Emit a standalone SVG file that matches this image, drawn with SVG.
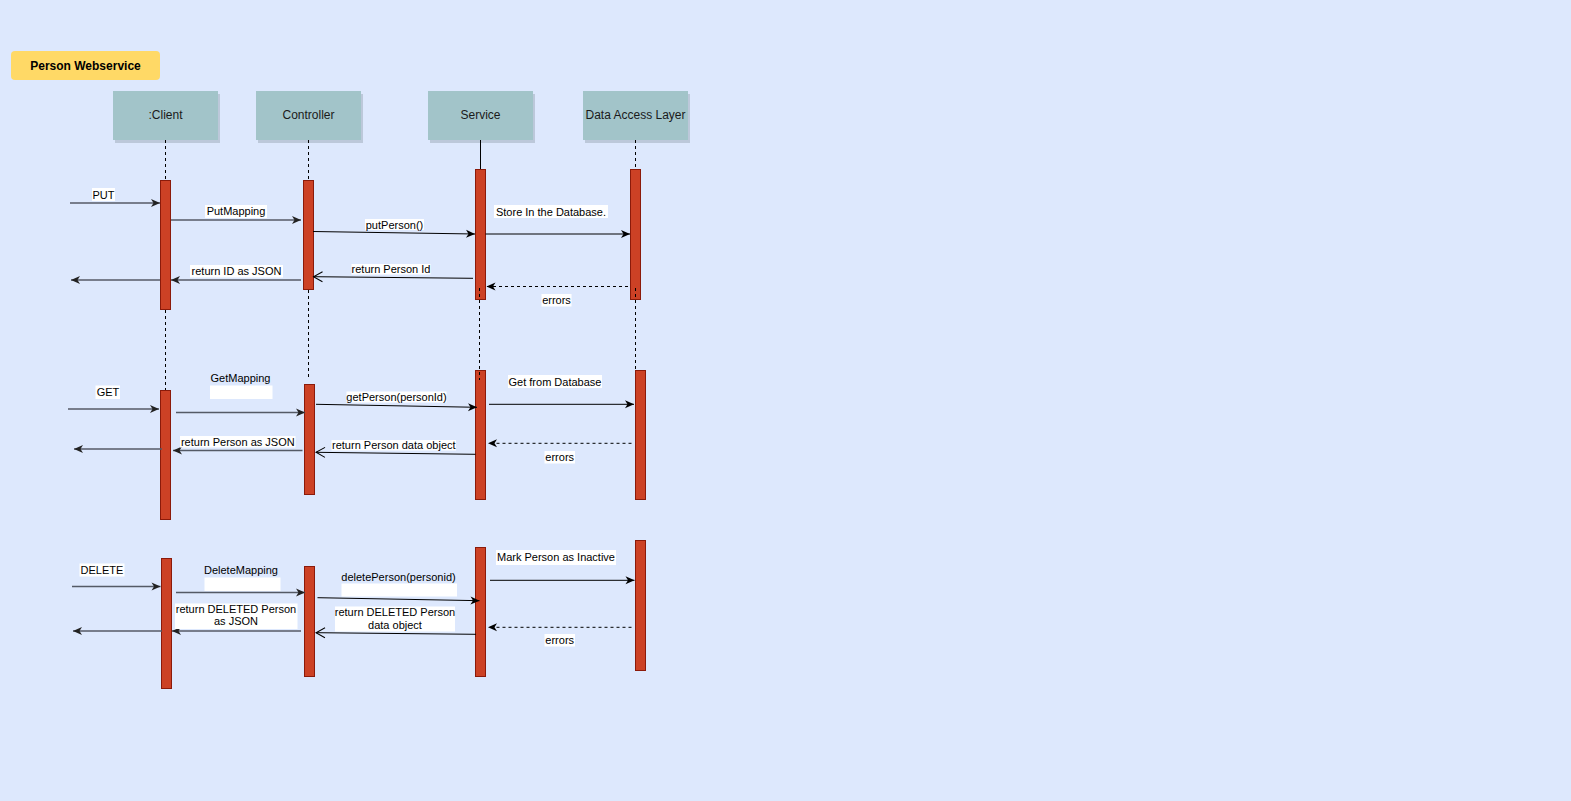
<svg xmlns="http://www.w3.org/2000/svg" width="1571" height="801" viewBox="0 0 1571 801">
  <defs>
    <style>
      .lbl { font-family: "Liberation Sans", Arial, sans-serif; font-size: 11px; fill: #000; text-anchor: middle; }
      .head { font-family: "Liberation Sans", Arial, sans-serif; font-size: 12px; fill: #1a1a1a; text-anchor: middle; }
      .title { font-family: "Liberation Sans", Arial, sans-serif; font-size: 12px; font-weight: bold; fill: #000; text-anchor: middle; }
      .box { fill: #a2c4c9; }
      .shadow { fill: #7f8c99; opacity: 0.35; }
      .act { fill: #cc4125; stroke: #8b1a0a; stroke-width: 1; }
      .life { stroke: #000; stroke-width: 1; stroke-dasharray: 3 3; fill: none; }
      .bg { fill: #fff; }
      .g { stroke: #545a66; stroke-width: 1.6; fill: none; marker-end: url(#gHead); }
      .k { stroke: #000; stroke-width: 1; fill: none; marker-end: url(#kHead); }
      .kd { stroke: #000; stroke-width: 1; fill: none; stroke-dasharray: 3 3; marker-end: url(#kHead); }
      .ko { stroke: #000; stroke-width: 1; fill: none; marker-end: url(#openHead); }
    </style>
    <marker id="gHead" markerUnits="userSpaceOnUse" markerWidth="12" markerHeight="10" refX="9" refY="4" orient="auto" overflow="visible">
      <path d="M0,0 L9,4 L0,8 L2.5,4 Z" fill="#222"/>
    </marker>
    <marker id="kHead" markerUnits="userSpaceOnUse" markerWidth="12" markerHeight="10" refX="9" refY="4" orient="auto" overflow="visible">
      <path d="M0,0 L9,4 L0,8 L2.5,4 Z" fill="#000"/>
    </marker>
    <marker id="openHead" markerUnits="userSpaceOnUse" markerWidth="12" markerHeight="12" refX="9" refY="5" orient="auto" overflow="visible">
      <path d="M0,0 L9,5 L0,10" fill="none" stroke="#000" stroke-width="1"/>
    </marker>
  </defs>

  <!-- page -->
  <rect x="0" y="0" width="1571" height="801" fill="#dde8fd"/>

  <!-- title -->
  <g id="title">
    <rect x="11" y="51" width="149" height="29" rx="4" fill="#ffd966"/>
    <text class="title" x="85.5" y="69.5">Person Webservice</text>
  </g>

  <!-- lifeline heads -->
  <g id="client">
    <rect class="shadow" x="115" y="94" width="105" height="49"/>
    <rect class="box" x="113" y="91" width="105" height="49"/>
    <text class="head" x="165.5" y="119">:Client</text>
  </g>
  <g id="controller">
    <rect class="shadow" x="258" y="94" width="105" height="49"/>
    <rect class="box" x="256" y="91" width="105" height="49"/>
    <text class="head" x="308.5" y="119">Controller</text>
  </g>
  <g id="service">
    <rect class="shadow" x="430" y="94" width="105" height="49"/>
    <rect class="box" x="428" y="91" width="105" height="49"/>
    <text class="head" x="480.5" y="119">Service</text>
  </g>
  <g id="dal">
    <rect class="shadow" x="585" y="94" width="105" height="49"/>
    <rect class="box" x="583" y="91" width="105" height="49"/>
    <text class="head" x="635.5" y="119">Data Access Layer</text>
  </g>

  <!-- lifelines -->
  <g id="lifelines">
    <line class="life" x1="165.5" y1="140" x2="165.5" y2="180"/>
    <line class="life" x1="165.5" y1="310" x2="165.5" y2="390"/>
    <line class="life" x1="308.5" y1="140" x2="308.5" y2="180"/>
    <line class="life" x1="308.5" y1="290" x2="308.5" y2="378"/>
    <line x1="480.5" y1="140" x2="480.5" y2="169" stroke="#000" stroke-width="1"/>
    <line class="life" x1="635.5" y1="140" x2="635.5" y2="169"/>
  </g>

  <!-- activation bars -->
  <g id="activations">
    <rect class="act" x="160.5" y="180.5" width="10" height="129"/>
    <rect class="act" x="303.5" y="180.5" width="10" height="109"/>
    <rect class="act" x="475.5" y="169.5" width="10" height="130"/>
    <rect class="act" x="630.5" y="169.5" width="10" height="130"/>

    <rect class="act" x="160.5" y="390.5" width="10" height="129"/>
    <rect class="act" x="304.5" y="384.5" width="10" height="110"/>
    <rect class="act" x="475.5" y="370.5" width="10" height="129"/>
    <rect class="act" x="635.5" y="370.5" width="10" height="129"/>

    <rect class="act" x="161.5" y="558.5" width="10" height="130"/>
    <rect class="act" x="304.5" y="566.5" width="10" height="110"/>
    <rect class="act" x="475.5" y="547.5" width="10" height="129"/>
    <rect class="act" x="635.5" y="540.5" width="10" height="130"/>
  </g>

  <!-- lifelines passing over the bars -->
  <g id="lifelines-over">
    <line class="life" x1="479.5" y1="288" x2="479.5" y2="380"/>
    <line class="life" x1="635.5" y1="288" x2="635.5" y2="372"/>
  </g>

  <!-- messages -->
  <g id="connectors">
    <!-- PUT -->
    <line class="g" x1="70" y1="203" x2="160" y2="203"/>
    <line class="g" x1="171" y1="220" x2="301" y2="220"/>
    <line class="k" x1="313" y1="231.5" x2="475" y2="234"/>
    <line class="k" x1="485.5" y1="234" x2="630" y2="234"/>
    <line class="ko" x1="473" y1="278.3" x2="313.5" y2="276.7"/>
    <line class="kd" x1="628" y1="286.5" x2="486.5" y2="286.5"/>
    <line class="g" x1="301" y1="280" x2="171" y2="280"/>
    <line class="g" x1="160" y1="280" x2="71" y2="280"/>

    <!-- GET -->
    <line class="g" x1="68" y1="409" x2="159" y2="409"/>
    <line class="g" x1="176" y1="412.5" x2="305" y2="412.5"/>
    <line class="k" x1="316" y1="404.3" x2="477" y2="407.3"/>
    <line class="k" x1="489" y1="404.3" x2="634" y2="404.3"/>
    <line class="kd" x1="631.5" y1="443.3" x2="488" y2="443.3"/>
    <line class="ko" x1="475.5" y1="454.3" x2="316" y2="452.3"/>
    <line class="g" x1="302.5" y1="450.5" x2="173" y2="450.5"/>
    <line class="g" x1="162" y1="449" x2="74" y2="449"/>

    <!-- DELETE -->
    <line class="g" x1="72" y1="586.5" x2="160.5" y2="586.5"/>
    <line class="g" x1="176" y1="592.5" x2="305" y2="592.5"/>
    <line class="k" x1="317.5" y1="597.7" x2="479.5" y2="600.7"/>
    <line class="k" x1="490" y1="580.3" x2="634.5" y2="580.3"/>
    <line class="kd" x1="631.5" y1="627.3" x2="488" y2="627.3"/>
    <line class="ko" x1="476" y1="634.3" x2="316" y2="632.7"/>
    <line class="g" x1="301" y1="631" x2="172" y2="631"/>
    <line class="g" x1="162" y1="631" x2="73" y2="631"/>
  </g>

  <!-- message labels -->
  <g id="labels">
    <rect class="bg" x="92" y="188" width="23" height="13"/>
    <text class="lbl" x="103.5" y="198.5">PUT</text>
    <rect class="bg" x="205" y="205" width="62" height="13"/>
    <text class="lbl" x="236" y="215">PutMapping</text>
    <rect class="bg" x="190" y="265" width="93" height="12.5"/>
    <text class="lbl" x="236.5" y="275">return ID as JSON</text>
    <rect class="bg" x="365" y="219" width="59" height="11"/>
    <text class="lbl" x="394.5" y="228.5">putPerson()</text>
    <rect class="bg" x="494" y="205" width="114" height="13"/>
    <text class="lbl" x="551" y="215.5">Store In the Database.</text>
    <rect class="bg" x="351.5" y="264" width="79" height="10.5"/>
    <text class="lbl" x="391" y="273">return Person Id</text>
    <rect class="bg" x="541.5" y="294" width="30" height="12.5"/>
    <text class="lbl" x="556.5" y="304">errors</text>

    <rect class="bg" x="95.5" y="385.5" width="24.5" height="13.5"/>
    <text class="lbl" x="108" y="396">GET</text>
    <text class="lbl" x="240.5" y="382">GetMapping</text>
    <rect class="bg" x="210" y="385.5" width="62.5" height="13.5"/>
    <rect class="bg" x="346.5" y="391.5" width="100" height="11"/>
    <text class="lbl" x="396.5" y="401">getPerson(personId)</text>
    <rect class="bg" x="508" y="375" width="94" height="13"/>
    <text class="lbl" x="555" y="385.5">Get from Database</text>
    <rect class="bg" x="180" y="436" width="115.5" height="11.5"/>
    <text class="lbl" x="237.8" y="445.5">return Person as JSON</text>
    <rect class="bg" x="331.5" y="440" width="124.5" height="10.5"/>
    <text class="lbl" x="393.8" y="449">return Person data object</text>
    <rect class="bg" x="544.5" y="451" width="30.5" height="12.5"/>
    <text class="lbl" x="559.7" y="461">errors</text>

    <rect class="bg" x="79.5" y="563.5" width="45" height="13"/>
    <text class="lbl" x="102" y="574">DELETE</text>
    <text class="lbl" x="241" y="574">DeleteMapping</text>
    <rect class="bg" x="204.5" y="577.5" width="76" height="13.5"/>
    <text class="lbl" x="398.5" y="580.5">deletePerson(personid)</text>
    <rect class="bg" x="341.5" y="583.5" width="115.5" height="13"/>
    <rect class="bg" x="496" y="550" width="120" height="15"/>
    <text class="lbl" x="556" y="561">Mark Person as Inactive</text>
    <rect class="bg" x="175" y="603.5" width="122.5" height="25.5"/>
    <text class="lbl" x="236" y="612.5">return DELETED Person</text>
    <text class="lbl" x="236" y="625">as JSON</text>
    <rect class="bg" x="335" y="606.5" width="120" height="25"/>
    <text class="lbl" x="395" y="616">return DELETED Person</text>
    <text class="lbl" x="395" y="629">data object</text>
    <rect class="bg" x="544.5" y="634" width="30.5" height="12.5"/>
    <text class="lbl" x="559.7" y="644">errors</text>
  </g>
</svg>
